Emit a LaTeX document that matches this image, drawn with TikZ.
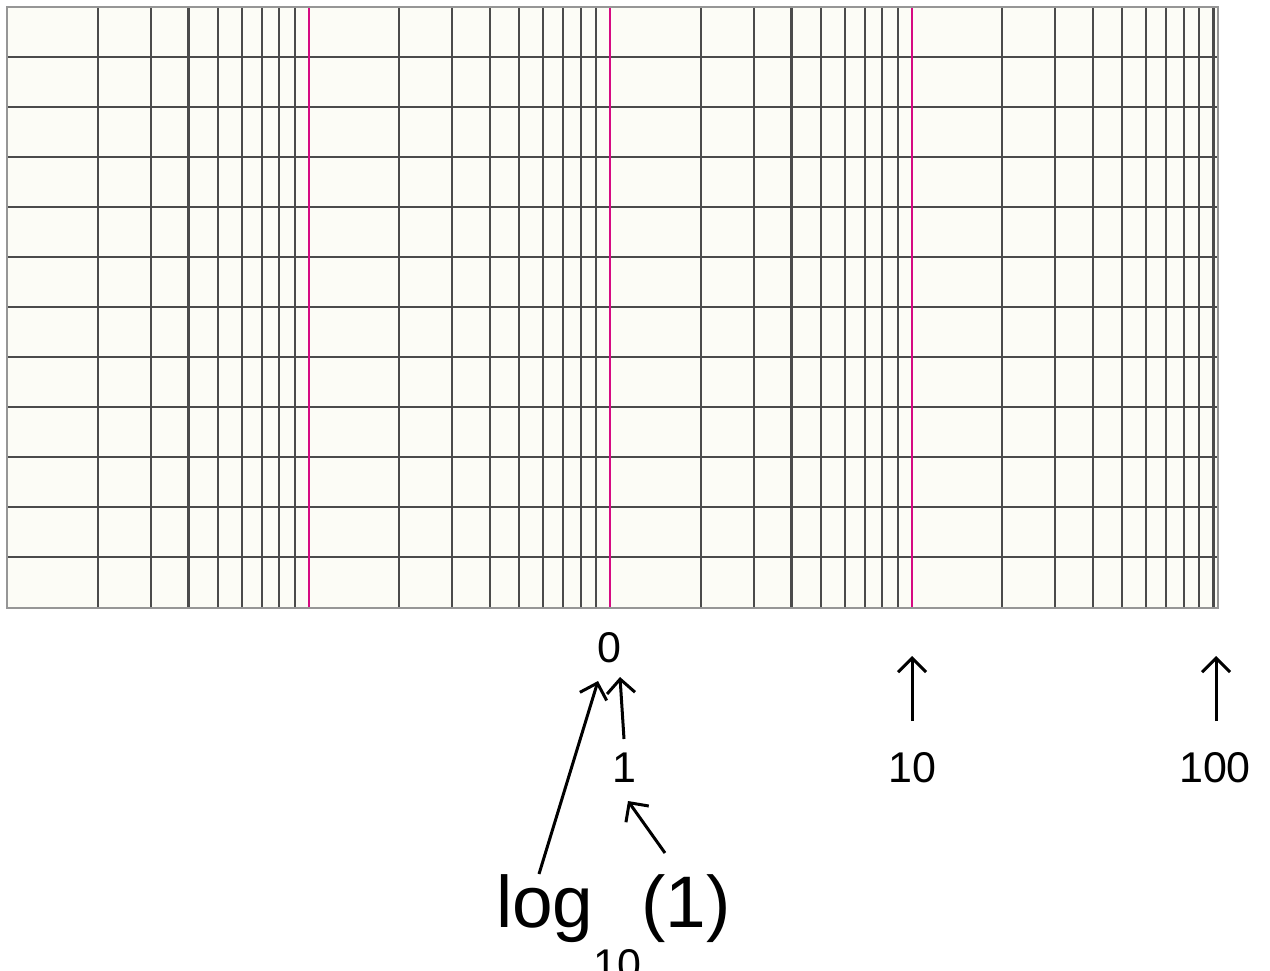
\documentclass[tikz,border=0pt]{standalone}
\usepackage{fontspec}
\setmainfont{Liberation Sans}
\usetikzlibrary{arrows.meta,calc}
\definecolor{gridc}{RGB}{75,75,75}
\definecolor{magc}{RGB}{214,10,130}
\definecolor{paperc}{RGB}{252,252,246}
\definecolor{framec}{RGB}{150,150,150}
\begin{document}
\begin{tikzpicture}[x=1pt,y=-1pt,
  gridl/.style={draw=gridc,line width=2.2pt},
  magl/.style={draw=magc,line width=2pt},
  lab/.style={inner sep=0pt,font=\fontsize{43}{43}\selectfont},
  arr/.style={line width=3pt,-{Straight Barb[length=14pt,width=28pt]}}]
\useasboundingbox (0,0) rectangle (1270,971);
\fill[white] (0,0) rectangle (1270,971);
\fill[paperc] (7,7) rectangle (1218,608);
% horizontal grid
\foreach \j in {1,...,11} \draw[gridl] (7,{7+50*\j}) -- (1218,{7+50*\j});
% vertical grid (log scale, four decades)
\foreach \d in {0,1,2,3}{
  \foreach \k in {2,...,9}{
    \draw[gridl] ({7+301.5*(\d+log10(\k))},7) -- ++(0,601);
  }
}
\draw[gridl] (1213.5,7) -- ++(0,601);
\foreach \d in {1,2,3} \draw[magl] ({7+301.5*\d},7) -- ++(0,601);
% frame
\draw[framec,line width=2.8pt] (7,7) rectangle (1218,608);
% labels
\node[lab] (zero) at (609,648) {0};
\node[lab] (one) at (624,768) {1};
\node[lab] (ten) at (912,768) {10};
\node[lab] (hund) at (1215,768) {100};
\node[anchor=base west,inner sep=0pt,font=\fontsize{73}{73}\selectfont] (logl) at (496,927)
  {log\raisebox{-52pt}{\fontsize{43}{43}\selectfont 10}(1)};
% arrow end points
\coordinate (tenTail) at (912,721);
\coordinate (tenTip) at (912,656);
\coordinate (hundTail) at (1216,721);
\coordinate (hundTip) at (1216,656);
\coordinate (oneTail) at (624,739);
\coordinate (oneTip) at (620,677);
\coordinate (logTail) at (539,874);
\coordinate (logTip) at (598,681);
\coordinate (parTail) at (665,853);
\coordinate (parTip) at (628,801);
\draw[arr] (tenTail) -- (tenTip);
\draw[arr] (hundTail) -- (hundTip);
\draw[arr] (oneTail) -- (oneTip);
\draw[arr] (logTail) -- (logTip);
\draw[arr] (parTail) -- (parTip);
\end{tikzpicture}
\end{document}
